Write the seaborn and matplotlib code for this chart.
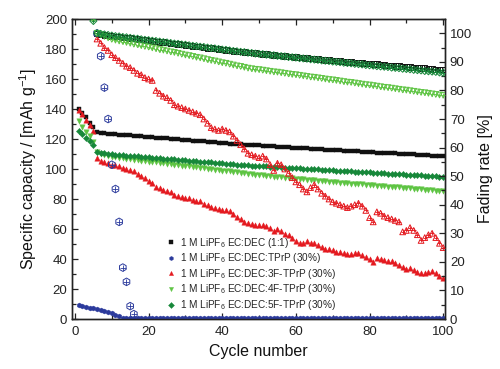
import matplotlib
matplotlib.use("Agg")
import matplotlib.pyplot as plt
import seaborn as sns
import pandas as pd
from matplotlib.ticker import MultipleLocator

# ---------------- data ----------------
labels = [
    "1 M LiPF$_6$ EC:DEC (1:1)",
    "1 M LiPF$_6$ EC:DEC:TPrP (30%)",
    "1 M LiPF$_6$ EC:DEC:3F-TPrP (30%)",
    "1 M LiPF$_6$ EC:DEC:4F-TPrP (30%)",
    "1 M LiPF$_6$ EC:DEC:5F-TPrP (30%)",
]

# capacity (mAh/g), cycles 1..100
cap_ref = [140, 137.5, 134.5, 131, 128, 124.5, 124, 123.8, 123.6, 123.4,
           123.2, 123, 122.8, 122.6, 122.4, 122.2, 122, 121.8, 121.6, 121.4,
           121.2, 121, 120.8, 120.6, 120.4, 120.2, 120, 119.8, 119.6, 119.4,
           119.2, 119, 118.8, 118.6, 118.4, 118.2, 118, 117.8, 117.6, 117.4,
           117.2, 117, 116.8, 116.7, 116.5, 116.3, 116.2, 116, 115.9, 115.7,
           115.5, 115.4, 115.2, 115.1, 114.9, 114.8, 114.6, 114.5, 114.3, 114.2,
           114, 113.9, 113.7, 113.6, 113.4, 113.3, 113.1, 113, 112.8, 112.7,
           112.5, 112.4, 112.3, 112.1, 112, 111.8, 111.7, 111.6, 111.4, 111.3,
           111.2, 111, 110.9, 110.8, 110.6, 110.5, 110.4, 110.2, 110.1, 110,
           109.8, 109.7, 109.6, 109.4, 109.3, 109.2, 109, 108.9, 108.8, 108.7]

cap_tprp = [9.5, 8.7, 8.2, 7.6, 7.1, 6.6, 6.0, 5.4, 4.6, 3.7,
            2.7, 1.7, 0.9, 0.4, 0.4, 0.4, 0.4, 0.4, 0.4, 0.4,
            0.4, 0.4, 0.4, 0.4, 0.4, 0.4, 0.4, 0.4, 0.4, 0.4,
            0.4, 0.4, 0.4, 0.4, 0.4, 0.4, 0.4, 0.4, 0.4, 0.4,
            0.4, 0.4, 0.4, 0.4, 0.4, 0.4, 0.4, 0.4, 0.4, 0.4,
            0.4, 0.4, 0.4, 0.4, 0.4, 0.4, 0.4, 0.4, 0.4, 0.4,
            0.4, 0.4, 0.4, 0.4, 0.4, 0.4, 0.4, 0.4, 0.4, 0.4,
            0.4, 0.4, 0.4, 0.4, 0.4, 0.4, 0.4, 0.4, 0.4, 0.4,
            0.4, 0.4, 0.4, 0.4, 0.4, 0.4, 0.4, 0.4, 0.4, 0.4,
            0.4, 0.4, 0.4, 0.4, 0.4, 0.4, 0.4, 0.4, 0.4, 0.4]

cap_3f = [139.5, 136.5, 133, 129.5, 125.5, 107.5, 105.5, 105, 104, 103,
          102.5, 102, 101, 100, 99.5, 98.5, 97, 95.5, 94, 92,
          91, 88, 87.5, 86, 85.5, 85, 83, 82, 81.5, 81,
          80.5, 79.5, 79, 78.5, 77, 76, 75, 74, 73.5, 73,
          72.5, 72, 70, 68, 66.5, 65, 64, 63.5, 63, 62.5,
          63, 62, 61, 59, 60, 58.5, 57, 56, 54, 52,
          51, 50.5, 52, 50.5, 51, 49.5, 48, 47, 46.5, 46,
          45, 44.5, 44, 43.5, 43.5, 44, 44, 43, 41.5, 40,
          38, 40.5, 40, 39.5, 39, 38.5, 37.5, 36, 34.5, 33.5,
          34, 33, 31.5, 30.5, 31, 31.5, 32, 30.5, 29, 27.5]

cap_4f = [132, 128, 125, 122, 118, 111.5, 110, 109.3, 108.8, 108.3,
          108, 107.6, 107.3, 107, 106.6, 106.3, 106, 105.6, 105.3, 105,
          104.7, 104.4, 104.1, 103.8, 103.5, 103.2, 102.9, 102.6, 102.3, 102,
          101.7, 101.4, 101.1, 100.8, 100.5, 100.2, 99.9, 99.6, 99.3, 99,
          98.7, 98.4, 98.1, 97.8, 97.5, 97.2, 96.9, 96.6, 96.3, 96,
          95.8, 95.5, 95.3, 95, 94.8, 94.5, 94.3, 94, 93.8, 93.5,
          93.3, 93.1, 92.9, 92.6, 92.4, 92.2, 92, 91.7, 91.5, 91.3,
          91.1, 90.9, 90.7, 90.5, 90.3, 90.1, 89.9, 89.7, 89.5, 89.3,
          89.1, 88.9, 88.7, 88.5, 88.3, 88.1, 87.9, 87.7, 87.5, 87.3,
          87.1, 86.9, 86.7, 86.5, 86.3, 86.1, 85.8, 85.6, 85.3, 85.1]

cap_5f = [125.5, 123.5, 121, 119, 116, 111.5, 110.8, 110.4, 110.1, 109.8,
          109.6, 109.4, 109.2, 109, 108.8, 108.6, 108.4, 108.2, 108, 107.8,
          107.6, 107.4, 107.2, 107, 106.8, 106.6, 106.4, 106.2, 106, 105.8,
          105.6, 105.4, 105.2, 105, 104.8, 104.6, 104.4, 104.2, 104, 103.8,
          103.6, 103.4, 103.2, 103, 102.8, 102.6, 102.5, 102.3, 102.2, 102,
          101.9, 101.7, 101.6, 101.4, 101.3, 101.2, 101, 100.9, 100.7, 100.6,
          100.4, 100.3, 100.2, 100, 99.9, 99.7, 99.6, 99.4, 99.3, 99.2,
          99, 98.9, 98.7, 98.6, 98.4, 98.3, 98.2, 98, 97.9, 97.7,
          97.6, 97.4, 97.3, 97.2, 97, 96.9, 96.7, 96.6, 96.4, 96.3,
          96.2, 96, 95.9, 95.7, 95.6, 95.4, 95.3, 95.2, 95, 94.8]

# fading rate (%), right axis
fade_ref_start = 6
fade_ref = [100, 99.6, 99.4, 99.3, 99.1, 98.9, 98.8, 98.6, 98.5, 98.3,
            98.2, 98, 97.8, 97.7, 97.5, 97.3, 97.2, 97, 96.9, 96.7,
            96.5, 96.4, 96.2, 96.1, 95.9, 95.7, 95.6, 95.4, 95.3, 95.1,
            94.9, 94.8, 94.6, 94.5, 94.3, 94.1, 94, 93.8, 93.7, 93.6,
            93.4, 93.3, 93.2, 93.1, 92.9, 92.8, 92.7, 92.5, 92.4, 92.3,
            92.2, 92.1, 91.9, 91.8, 91.7, 91.6, 91.5, 91.3, 91.2, 91.1,
            91, 90.8, 90.7, 90.6, 90.5, 90.4, 90.3, 90.2, 90, 89.9,
            89.8, 89.7, 89.6, 89.5, 89.4, 89.3, 89.2, 89.1, 88.9, 88.8,
            88.7, 88.6, 88.5, 88.4, 88.3, 88.2, 88.1, 88, 87.9, 87.8,
            87.7, 87.5, 87.4, 87.3, 87.3]

fade_tprp_start = 6
fade_tprp = [100, 92, 81, 70, 54, 45.5, 34, 18, 13, 4.5, 1.7]

fade_3f_start = 6
fade_3f = [98, 96.5, 95, 94, 92.5, 91.5, 90.5, 89.5, 88.5, 88,
           87, 86, 85.5, 84.5, 84, 83.5, 80, 79, 78, 77.5,
           76.5, 75, 74.5, 74, 73.5, 73, 72.5, 72, 71.5, 70,
           68.5, 67, 66.5, 66, 66.5, 66, 65.5, 64, 62.5, 61,
           59.5, 58, 57.5, 57, 56.5, 57, 56, 54, 52, 54.5,
           54, 52.5, 51, 49.5, 48, 47, 45.5, 44.5, 46, 47,
           45.5, 44, 43, 42, 41, 40.5, 40, 39.5, 39, 39.5,
           40, 40.5, 39.5, 38, 35.5, 34, 37.5, 37, 36, 35.5,
           35, 34.5, 34, 30.5, 31, 32, 31, 29.5, 27.5, 28.5,
           29.5, 30, 28.5, 26.5, 25]

fade_4f_start = 5
fade_4f = [104.8, 100, 99.5, 98.9, 98.4, 97.9,
           97.6, 97.3, 97.1, 96.8, 96.5, 96.2, 96, 95.7, 95.4, 95.2,
           94.9, 94.6, 94.3, 94.1, 93.8, 93.5, 93.3, 93, 92.7, 92.4,
           92.2, 91.9, 91.6, 91.4, 91.1, 90.8, 90.5, 90.3, 90, 89.7,
           89.5, 89.2, 88.9, 88.6, 88.4, 88.1, 87.8, 87.6, 87.4, 87.3,
           87.1, 86.9, 86.7, 86.5, 86.4, 86.2, 86, 85.8, 85.6, 85.5,
           85.3, 85.1, 84.9, 84.7, 84.6, 84.4, 84.2, 84, 83.8, 83.7,
           83.5, 83.3, 83.1, 82.9, 82.8, 82.6, 82.4, 82.2, 82, 81.9,
           81.7, 81.5, 81.3, 81.1, 81, 80.8, 80.6, 80.4, 80.2, 80.1,
           79.9, 79.7, 79.5, 79.3, 79.2, 79, 78.8, 78.6, 78.4, 78.3]

fade_5f_start = 5
fade_5f = [104.3, 100, 99.8, 99.6, 99.4, 99.2,
           99.0, 98.9, 98.7, 98.6, 98.4, 98.2, 98.1, 97.9, 97.7, 97.6,
           97.4, 97.3, 97.1, 96.9, 96.8, 96.6, 96.4, 96.3, 96.1, 96,
           95.8, 95.6, 95.5, 95.3, 95.2, 95, 94.8, 94.7, 94.5, 94.3,
           94.2, 94, 93.8, 93.7, 93.5, 93.4, 93.2, 93.1, 92.9, 92.8,
           92.7, 92.5, 92.4, 92.3, 92.1, 92, 91.9, 91.7, 91.6, 91.5,
           91.3, 91.2, 91.1, 90.9, 90.8, 90.7, 90.5, 90.4, 90.3, 90.1,
           90, 89.9, 89.7, 89.6, 89.5, 89.3, 89.2, 89.1, 88.9, 88.8,
           88.7, 88.5, 88.4, 88.3, 88.2, 88, 87.9, 87.8, 87.6, 87.5,
           87.4, 87.2, 87.1, 87, 86.8, 86.7, 86.6, 86.5, 86.3, 86.2]

colors = ["#111111", "#2b3a9c", "#e4191f", "#5ec443", "#17883a"]
markers = ["s", "h", "^", "v", "D"]
cap_sizes = [12, 13, 15, 15, 10]
fade_sizes = [15, 30, 17, 17, 13]

caps = [cap_ref, cap_tprp, cap_3f, cap_4f, cap_5f]
fades = [(fade_ref_start, fade_ref), (fade_tprp_start, fade_tprp),
         (fade_3f_start, fade_3f), (fade_4f_start, fade_4f),
         (fade_5f_start, fade_5f)]

# ---------------- style ----------------
sns.set_style("ticks")
plt.rcParams["font.family"] = ["Liberation Sans", "DejaVu Sans"]
plt.rcParams["mathtext.fontset"] = "custom"
plt.rcParams["mathtext.rm"] = "Liberation Sans"
plt.rcParams["mathtext.it"] = "Liberation Sans:italic"
plt.rcParams["mathtext.bf"] = "Liberation Sans:bold"

fig = plt.figure(figsize=(5.0, 3.69), dpi=100)
ax = fig.add_axes([0.144, 0.1355, 0.746, 0.813])
ax2 = ax.twinx()

# fading rate (hollow markers with a cross)
for (start, vals), c, m, s in zip(fades, colors, markers, fade_sizes):
    df = pd.DataFrame({"cycle": list(range(start, start + len(vals))), "fade": vals})
    sns.scatterplot(data=df, x="cycle", y="fade", ax=ax2, marker=m, s=s,
                    facecolors="none", edgecolor=c, linewidth=0.7, legend=False,
                    zorder=3)
    sns.scatterplot(data=df, x="cycle", y="fade", ax=ax2, marker="+", s=s * 0.45,
                    color=c, linewidth=0.6, legend=False, zorder=3)

# capacity (solid markers)
handles = []
for vals, c, m, s, lab in zip(caps, colors, markers, cap_sizes, labels):
    df = pd.DataFrame({"cycle": list(range(1, 1 + len(vals))), "cap": vals})
    sns.scatterplot(data=df, x="cycle", y="cap", ax=ax, marker=m, s=s,
                    color=c, edgecolor=c, linewidth=0.3, legend=False, zorder=3)
    handles.append(plt.Line2D([], [], ls="none", marker=m, color=c,
                              markersize=3.0, markeredgewidth=0.3))

# axes setup
ax.set_xlim(-0.8, 100.5)
ax.set_ylim(0, 200)
ax2.set_ylim(0, 105)
ax.xaxis.set_major_locator(MultipleLocator(20))
ax.xaxis.set_minor_locator(MultipleLocator(10))
ax.yaxis.set_major_locator(MultipleLocator(20))
ax.yaxis.set_minor_locator(MultipleLocator(10))
ax2.yaxis.set_major_locator(MultipleLocator(10))
ax2.yaxis.set_minor_locator(MultipleLocator(5))

tick_color = "#222222"
ax.tick_params(axis="both", which="both", direction="in", top=True,
               right=False, labelsize=9.5, colors=tick_color, width=0.9)
ax.tick_params(axis="x", which="both", pad=5)
ax.tick_params(which="major", length=4.5)
ax.tick_params(which="minor", length=3)
ax2.tick_params(axis="y", which="both", direction="in", labelsize=9.5,
                colors=tick_color, width=0.9)
ax2.tick_params(which="major", length=4.5)
ax2.tick_params(which="minor", length=3)

for a in (ax, ax2):
    for sp in a.spines.values():
        sp.set_linewidth(1.0)
        sp.set_color("#222222")
        sp.set_visible(True)

ax.set_xlabel("Cycle number", fontsize=11.5, color="#111111", labelpad=4)
ax.set_ylabel("Specific capacity / [mAh g$^{-1}$]", fontsize=11.5,
              color="#111111", labelpad=4)
ax2.set_ylabel("Fading rate [%]", fontsize=11.5, color="#111111", labelpad=4)

leg = ax2.legend(handles, labels, loc="lower left",
                 bbox_to_anchor=(0.245, 0.01), frameon=False, fontsize=7.2,
                 handlelength=0.8, handletextpad=0.5, labelspacing=0.16,
                 borderaxespad=0.0)

fig.savefig("out.png", dpi=100)
